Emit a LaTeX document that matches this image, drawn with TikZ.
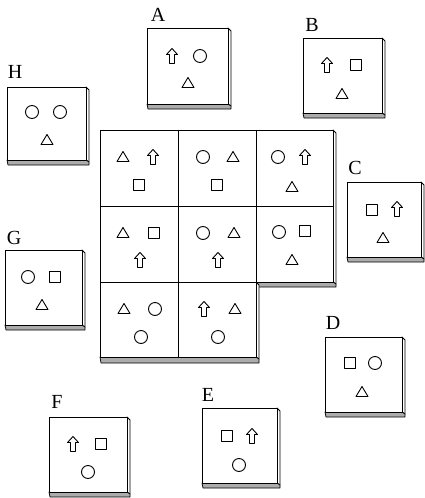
\documentclass[tikz,border=0pt]{standalone}
\usepackage{fontspec}
\setmainfont{Liberation Serif}
\newcommand\tile[4]{%
 \draw[sidestrip] (#3,#2) -- (#3+3,#2+3) -- (#3+3,#4+2) -- (#3,#4) -- cycle;
 \draw[strip] (#1,#4) -- (#3,#4) -- (#3+3,#4+2) -- (#3+3,#4+5) -- (#1+1,#4+5) -- cycle;
 \draw[face] (#1,#2) rectangle (#3,#4);}
\newcommand\shcirc[2]{\draw[shp] (#1,#2) circle[radius=6.5];}
\newcommand\shsq[2]{\draw[shp] (#1-5.5,#2-5.5) rectangle (#1+5.5,#2+5.5);}
\newcommand\shtri[2]{\draw[shp] (#1-6,#2+4.5) -- (#1+6,#2+4.5) -- (#1,#2-5.5) -- cycle;}
\newcommand\sharr[2]{\draw[shp] (#1,#2-7.5) -- (#1+5.5,#2-1.5) -- (#1+2.5,#2-1.5) -- (#1+2.5,#2+7.5) -- (#1-2.5,#2+7.5) -- (#1-2.5,#2-1.5) -- (#1-5.5,#2-1.5) -- cycle;}
\begin{document}
\begin{tikzpicture}[x=1pt,y=-1pt,line join=round,
 shp/.style={line width=0.9pt},
 face/.style={line width=1pt, fill=white},
 sidestrip/.style={line width=0.8pt, fill=white},
 strip/.style={fill=gray!65, line width=0.7pt},
 lab/.style={font=\fontsize{20}{22}\selectfont, inner sep=0pt}]
\useasboundingbox (0,0) rectangle (425,498);

% ---------- main grid ----------
\draw[sidestrip] (333,130) -- (336,133) -- (336,284) -- (333,282) -- cycle;
\draw[strip] (256,282) -- (333,282) -- (336,284) -- (336,287) -- (256,287) -- cycle;
\draw[sidestrip] (256,282) -- (259,285) -- (259,359) -- (256,357) -- cycle;
\draw[strip] (100,357) -- (256,357) -- (259,359) -- (259,363) -- (101,363) -- cycle;
\draw[face] (100,130) -- (333,130) -- (333,282) -- (256,282) -- (256,357) -- (100,357) -- cycle;
\draw[line width=1pt] (178,130) -- (178,357);
\draw[line width=1pt] (256,130) -- (256,282);
\draw[line width=1pt] (100,206) -- (333,206);
\draw[line width=1pt] (100,282) -- (256,282);

% row 1
\shtri{123}{157} \sharr{153}{157} \shsq{139}{185}
\shcirc{203}{157} \shtri{233}{157} \shsq{217}{185}
\shcirc{278}{157} \sharr{305}{157} \shtri{292}{187}
% row 2
\shtri{123}{233} \shsq{154}{233} \sharr{140}{260}
\shcirc{203}{233} \shtri{234}{233} \sharr{218}{260}
\shcirc{279}{232} \shsq{305}{231} \shtri{292}{260}
% row 3
\shtri{124}{309} \shcirc{155}{309} \shcirc{141}{337}
\sharr{204}{309} \shtri{235}{309} \shcirc{218}{337}

% ---------- loose tiles ----------
% A
\tile{147}{28}{228}{104}
\node[lab] (labA) at (158,15) {A};
\sharr{172}{56} \shcirc{200}{56} \shtri{188}{83}
% B
\tile{303}{38}{382}{113}
\node[lab] (labB) at (312,25) {B};
\sharr{327}{65} \shsq{356}{65} \shtri{342}{94}
% C
\tile{347}{182}{421}{257}
\node[lab] (labC) at (355,168) {C};
\shsq{372}{210} \sharr{397}{209} \shtri{383}{238}
% D
\tile{325}{337}{402}{412}
\node[lab] (labD) at (333,323) {D};
\shsq{350}{363} \shcirc{375}{363} \shtri{362}{392}
% E
\tile{202}{408}{277}{483}
\node[lab] (labE) at (208,395) {E};
\shsq{227}{436} \sharr{252}{436} \shcirc{239}{465}
% F
\tile{49}{417}{127}{492}
\node[lab] (labF) at (57,402) {F};
\sharr{73}{444} \shsq{101}{444} \shcirc{88}{472}
% G
\tile{5}{250}{82}{325}
\node[lab] (labG) at (14,238) {G};
\shcirc{28}{277} \shsq{55}{277} \shtri{42}{305}
% H
\tile{7}{87}{86}{160}
\node[lab] (labH) at (15,72) {H};
\shcirc{32}{112} \shcirc{60}{112} \shtri{47}{140}
\end{tikzpicture}
\end{document}
